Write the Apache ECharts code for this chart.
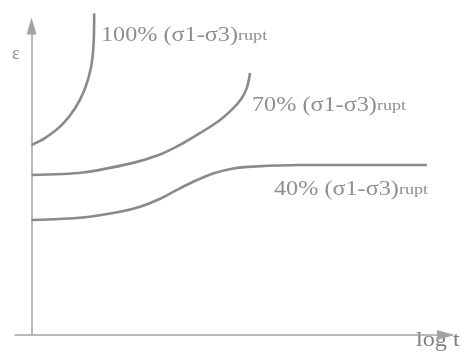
<!DOCTYPE html>
<html><head><meta charset="utf-8">
<script src="https://cdn.jsdelivr.net/npm/echarts@6/dist/echarts.min.js"></script>
<style>html,body{margin:0;padding:0;background:#fff}#c{width:462px;height:355px}</style>
</head><body><div id="c"></div>
<script>
// Curves (x: log t, y: strain, arbitrary units)
const curve100 = [[0,61.5],[3.2,63.7],[7.3,68.0],[10.5,73.4],[12.9,79.8],[14.3,86.3],[14.9,92.8],[15.1,101.4],[15.1,104.1]];
const curve70 = [[0,51.8],[12.4,52.6],[24.5,55.7],[31.0,58.4],[35.8,61.5],[40.6,65.3],[45.5,69.6],[48.7,73.4],[50.7,76.6],[51.9,79.8],[52.5,83.1],[52.7,84.8]];
const curve40 = [[0,37.2],[12.4,38.0],[21.3,39.9],[26.2,41.5],[30.9,44.0],[35.0,46.9],[39.0,49.6],[43.8,52.3],[48.7,53.9],[53.5,54.5],[64.8,55.0],[95.4,55.0]];
const seriesNames = ['100%', '70%', '40%'];
const labelMain = ['100% (σ1-σ3)', '70% (σ1-σ3)', '40% (σ1-σ3)'];
const labelSub = 'rupt';
const xName = 'log t';
const yName = 'ε';

const chart = echarts.init(document.getElementById('c'), null, {renderer: 'canvas'});
const lineColor = '#8a8a8a';
const axisColor = '#a3a3a3';
const textColor = '#8e8e8e';
const font = 'Liberation Serif';
const sx = 1.21;

function mkSeries(name, data) {
  return {
    name: name, type: 'line', data: data, smooth: 0.3,
    showSymbol: false, clip: false, silent: true,
    lineStyle: {color: lineColor, width: 2.6}
  };
}
function mkLabel(i, x, y) {
  return {
    type: 'text', x: x, y: y, scaleX: sx, silent: true,
    style: {
      text: '{a|' + labelMain[i] + '}{b|' + labelSub + '}',
      align: 'left', verticalAlign: 'middle',
      rich: {
        a: {fontFamily: font, fontSize: 20, fill: textColor, lineHeight: 22, verticalAlign: 'middle'},
        b: {fontFamily: font, fontSize: 15, fill: textColor, lineHeight: 22, verticalAlign: 'middle'}
      }
    }
  };
}

chart.setOption({
  animation: false,
  grid: {left: 15, right: 16, top: 26, bottom: 20, containLabel: false},
  xAxis: {
    type: 'value', min: -4, max: 100,
    axisLine: {show: true, onZero: true, symbol: ['none', 'triangle'], symbolSize: [10, 18], lineStyle: {color: axisColor, width: 1.5}},
    axisTick: {show: false}, axisLabel: {show: false}, splitLine: {show: false}
  },
  yAxis: {
    type: 'value', min: 0, max: 100,
    axisLine: {show: true, onZero: true, symbol: ['none', 'triangle'], symbolSize: [10, 17], lineStyle: {color: axisColor, width: 1.5}},
    axisTick: {show: false}, axisLabel: {show: false}, splitLine: {show: false}
  },
  series: [mkSeries(seriesNames[0], curve100), mkSeries(seriesNames[1], curve70), mkSeries(seriesNames[2], curve40)],
  graphic: [
    mkLabel(0, 101, 36),
    mkLabel(1, 252, 106),
    mkLabel(2, 274, 190),
    {type: 'text', x: 12, y: 45, silent: true, style: {text: yName, fontFamily: font, fontSize: 18, fill: textColor}},
    {type: 'text', x: 416, y: 331, scaleX: sx, silent: true, style: {text: xName, fontFamily: font, fontSize: 20, fill: '#808080'}}
  ]
});
</script></body></html>
